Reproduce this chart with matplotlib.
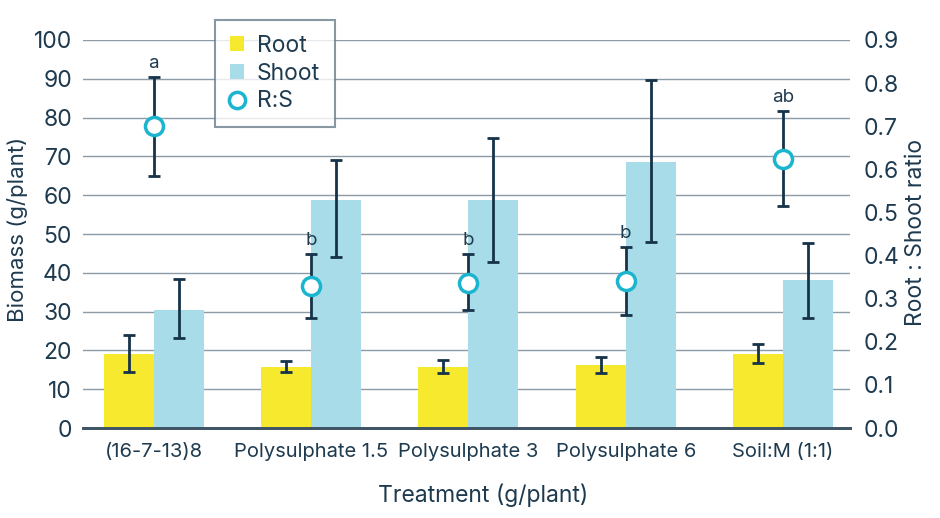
import matplotlib
matplotlib.use("Agg")
import matplotlib.pyplot as plt
import numpy as np

plt.rcParams['font.family'] = ['Inter', 'DejaVu Sans']

treatments = ['(16-7-13)8', 'Polysulphate 1.5', 'Polysulphate 3', 'Polysulphate 6', 'Soil:M (1:1)']

root = [19.0, 15.8, 15.8, 16.3, 19.2]
root_hi = [24.0, 17.2, 17.5, 18.3, 21.6]
root_lo = [14.5, 14.5, 14.3, 14.3, 16.7]

shoot = [30.5, 58.8, 58.8, 68.6, 38.1]
shoot_hi = [38.3, 69.0, 74.8, 89.7, 47.8]
shoot_lo = [23.2, 44.0, 42.8, 48.0, 28.4]

rs = [0.700, 0.329, 0.336, 0.341, 0.625]
rs_hi = [0.814, 0.403, 0.403, 0.419, 0.735]
rs_lo = [0.585, 0.255, 0.273, 0.262, 0.515]
letters = ['a', 'b', 'b', 'b', 'ab']

txt = '#1e3a4f'
navy = '#163349'
yellow = '#f7ea2e'
blue = '#a8dce8'
teal = '#1bb5cf'

fig = plt.figure(figsize=(9.4, 5.18), dpi=100)
ax = fig.add_axes([0.0883, 0.1737, 0.8160, 0.7491])
ax2 = ax.twinx()

x = np.arange(len(treatments))
w = 0.318

r = np.array(root)
s = np.array(shoot)
ax.bar(x - w / 2, r, w, color=yellow, label='Root', zorder=2)
ax.bar(x + w / 2, s, w, color=blue, label='Shoot', zorder=2)
ax.errorbar(x - w / 2, r, yerr=[r - np.array(root_lo), np.array(root_hi) - r],
            fmt='none', ecolor=navy, elinewidth=2, capsize=4, capthick=2, zorder=3)
ax.errorbar(x + w / 2, s, yerr=[s - np.array(shoot_lo), np.array(shoot_hi) - s],
            fmt='none', ecolor=navy, elinewidth=2, capsize=4, capthick=2, zorder=3)

q = np.array(rs)
ax2.errorbar(x, q, yerr=[q - np.array(rs_lo), np.array(rs_hi) - q],
             fmt='none', ecolor=navy, elinewidth=2, capsize=4, capthick=2, zorder=3)
ax2.plot(x, q, 'o', ms=13, mfc='white', mec=teal, mew=2.5, zorder=4, label='R:S')
for xi, hi, lab in zip(x, rs_hi, letters):
    ax2.text(xi, hi + 0.012, lab, ha='center', va='bottom', fontsize=13.5, color=txt)

ax.set_xlim(-0.45, 4.426)
ax.set_ylim(0, 100)
ax.set_yticks(np.arange(0, 101, 10))
ax2.set_ylim(0, 0.9)
ax2.set_yticks(np.arange(0, 0.91, 0.1))
ax2.set_yticklabels(['%.1f' % v for v in np.arange(0, 0.91, 0.1)])

ax.grid(axis='y', color='#8c9ba8', lw=1, zorder=0)
ax.set_axisbelow(True)
for a in (ax, ax2):
    for sp in ('top', 'left', 'right'):
        a.spines[sp].set_visible(False)
    a.spines['bottom'].set_color('#3f5566')
    a.spines['bottom'].set_linewidth(2)
    a.tick_params(length=0, labelsize=16.5, labelcolor=txt)
ax.tick_params(axis='y', pad=8)
ax2.tick_params(axis='y', pad=10)
ax.set_xticks(x)
ax.set_xticklabels(treatments, fontsize=14.5)
ax.tick_params(axis='x', pad=11)

ax.set_xlabel('Treatment (g/plant)', fontsize=16.5, color=txt)
ax.set_ylabel('Biomass (g/plant)', fontsize=16, color=txt)
ax2.set_ylabel('Root : Shoot ratio', fontsize=16.5, color=txt)
ax.xaxis.set_label_coords(0.5215, -0.142)
ax.yaxis.set_label_coords(-0.072, 0.513)
ax2.yaxis.set_label_coords(1.072, 0.505)

h1, l1 = ax.get_legend_handles_labels()
h2, l2 = ax2.get_legend_handles_labels()
leg = ax2.legend(h1 + h2, l1 + l2, loc='upper left', bbox_to_anchor=(0.172, 1.0515),
                 fontsize=16.5, frameon=True, fancybox=False, handlelength=0.62,
                 handleheight=0.62, handletextpad=0.55, borderpad=0.65, labelspacing=0.25,
                 borderaxespad=0, markerscale=0.9)
leg.get_frame().set_edgecolor('#6a7e8c')
leg.get_frame().set_linewidth(1.5)
for t in leg.get_texts():
    t.set_color(txt)
leg.set_zorder(10)

fig.savefig('out.png', dpi=100)
